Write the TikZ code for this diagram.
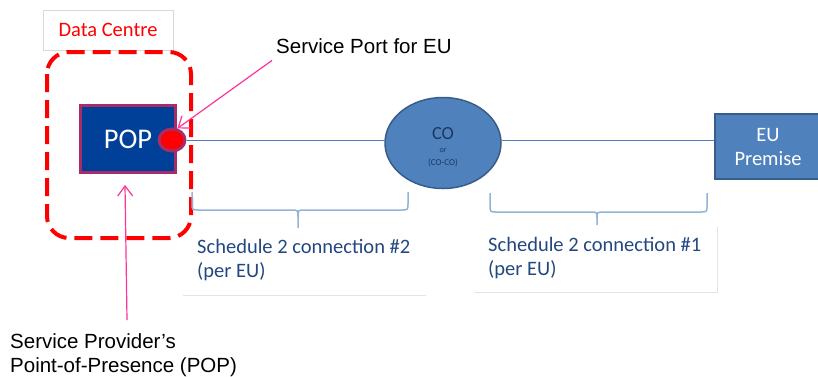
\documentclass[tikz,border=0pt]{standalone}
\usepackage{fontspec}
\setmainfont{Carlito}
\newfontfamily\arialf{Liberation Sans}
\usetikzlibrary{arrows.meta,shapes.geometric}
\definecolor{popblue}{RGB}{0,64,153}
\definecolor{popedge}{RGB}{165,45,105}
\definecolor{lineblue}{RGB}{74,126,187}
\definecolor{cofill}{RGB}{79,129,189}
\definecolor{coedge}{RGB}{56,93,138}
\definecolor{bracec}{RGB}{149,179,215}
\definecolor{schtext}{RGB}{35,72,128}
\definecolor{pinkc}{RGB}{255,51,153}
\definecolor{cotextc}{RGB}{30,55,95}
\definecolor{boxgray}{RGB}{217,217,217}
\definecolor{shadowgray}{RGB}{228,228,228}
\begin{document}
\begin{tikzpicture}[x=1pt,y=-1pt,
  dcbox/.style={draw=boxgray,line width=0.8pt,minimum width=130pt,minimum height=40pt,inner sep=0pt,text=red,font=\fontsize{20.5}{23}\selectfont},
  dcframe/.style={draw=red,line width=4pt,dash pattern=on 18pt off 8pt,rounded corners=22pt},
  popbox/.style={draw=popedge,fill=popblue,line width=3pt,minimum width=95pt,minimum height=67pt,inner sep=0pt,text=white,font=\fontsize{28.5}{32}\selectfont},
  portdot/.style={ellipse,draw=popedge,fill=red,line width=3pt,minimum width=26pt,minimum height=22pt,inner sep=0pt},
  conn/.style={draw=lineblue,line width=1pt},
  coell/.style={ellipse,draw=coedge,fill=cofill,line width=1.5pt,minimum width=116pt,minimum height=91pt,inner sep=0pt},
  cotext/.style={text=cotextc,align=center,inner sep=0pt,font=\fontsize{8}{13}\selectfont},
  eubox/.style={draw=coedge,fill=cofill,line width=1.5pt,minimum width=106pt,minimum height=65pt,inner sep=0pt,text=white,align=center,font=\fontsize{20.5}{24}\selectfont},
  bracestyle/.style={draw=bracec,line width=1.5pt},
  schlabel/.style={text=schtext,font=\fontsize{20.5}{24}\selectfont,align=left,inner sep=0pt,anchor=north west},
  callout/.style={font=\arialf\fontsize{20.5}{24}\selectfont,inner sep=0pt,align=left},
  pinkarrow/.style={draw=pinkc,line width=1.2pt,-{Straight Barb[length=10pt,width=15pt]}},
  faint/.style={draw=shadowgray,line width=1pt}
]
\useasboundingbox (0,0) rectangle (818,376);
\fill[white] (0,0) rectangle (818,376);

% Data centre
\node[dcbox] (dc) at (108,30) {Data Centre};
\draw[dcframe] (47,52) rectangle (191,238);

% POP and port
\node[popbox] (pop) at (128,139) {POP};
\node[portdot] (dot) at (172,140) {};

% CO
\node[coell] (co) at (443,143) {};
\node[cotext] (cot) at (443,147) {{\fontsize{18.5}{13}\selectfont CO}\\or\\{\fontsize{9}{13}\selectfont (CO-CO)}};

% EU premise
\node[eubox] (eu) at (768,146.5) {EU\\Premise};

% connections
\draw[conn] (dot.east) -- (co.west |- dot.east);
\draw[conn] (co.east |- dot.east) -- (eu.west |- dot.east);

% braces
\coordinate (b1l) at (192,192);
\coordinate (b1r) at (408,192);
\coordinate (b1t) at (298,228);
\draw[bracestyle] (b1l) -- (192,203) .. controls (192,210) .. (199,210) -- (291,210) .. controls (298,210) .. (298,217) -- (b1t);
\draw[bracestyle] (298,217) .. controls (298,210) .. (305,210) -- (401,210) .. controls (408,210) .. (408,203) -- (b1r);

\coordinate (b2l) at (490,193);
\coordinate (b2r) at (707,193);
\coordinate (b2t) at (597,225);
\draw[bracestyle] (b2l) -- (490,205) .. controls (490,212) .. (497,212) -- (590,212) .. controls (597,212) .. (597,218) -- (b2t);
\draw[bracestyle] (597,218) .. controls (597,212) .. (604,212) -- (700,212) .. controls (707,212) .. (707,205) -- (b2r);

% schedule labels with faint box edges
\draw[faint] (183,295) -- (426,295);
\draw[faint] (717,227) -- (717,292) -- (474,292);
\node[schlabel] (s2) at (197,239) {Schedule 2 connection \#2\\(per EU)};
\node[schlabel] (s1) at (488,237) {Schedule 2 connection \#1\\(per EU)};

% callouts
\node[callout,anchor=base west] (sp) at (276,53) {Service Port for EU};
\draw[pinkarrow] ([shift={(-4pt,-7pt)}]sp.south west) -- (dot.65);

\node[callout,anchor=north west] (spp) at (10,333) {Service Provider’s\\Point-of-Presence (POP)};
\coordinate (pb) at (127,320);
\draw[pinkarrow] (pb) -- ([xshift=-3pt,yshift=-11pt]pop.south);
\end{tikzpicture}
\end{document}
